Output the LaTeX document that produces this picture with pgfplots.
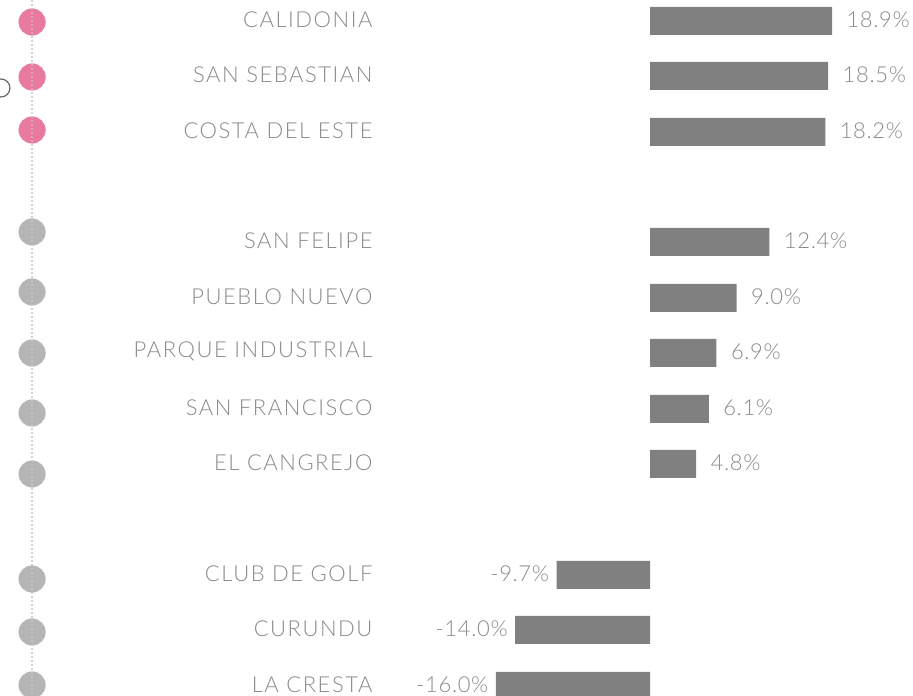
\documentclass[border=0pt]{standalone}
\usepackage{pgfplots}
\usepackage{pgfplotstable}
\pgfplotsset{compat=1.18}
\usepackage{fontspec}
\setmainfont{Lato Light}[LetterSpace=7]
\newfontfamily\numfont{Lato Light}[LetterSpace=3]
\definecolor{txt}{HTML}{8A8A8A}
\definecolor{barc}{HTML}{808080}
\definecolor{pinkc}{HTML}{E8799F}
\definecolor{grayc}{HTML}{B5B5B5}
\definecolor{dotc}{HTML}{D2D2D2}

% y = minus pixel row of each bar centre
\pgfplotstableread{
y    v     lab
-21  18.9  CALIDONIA
-76  18.5  {SAN SEBASTIAN}
-132 18.2  {COSTA DEL ESTE}
-242 12.4  {SAN FELIPE}
-298 9.0   {PUEBLO NUEVO}
-353 6.9   {PARQUE INDUSTRIAL}
-409 6.1   {SAN FRANCISCO}
-464 4.8   {EL CANGREJO}
-575 -9.7  {CLUB DE GOLF}
-630 -14.0 CURUNDU
-686 -16.0 {LA CRESTA}
}\bars
\pgfplotstableread{
x      y
-64.17 -22
-64.17 -77
-64.17 -130
}\pinkdots
\pgfplotstableread{
x      y
-64.17 -232
-64.17 -292
-64.17 -353
-64.17 -413
-64.17 -474
-64.17 -579
-64.17 -632
-64.17 -685
}\graydots

\begin{document}
\begin{tikzpicture}
\begin{axis}[
  width=913pt, height=696pt, scale only axis,
  xmin=-67.50, xmax=27.31, ymin=-696, ymax=0,
  hide axis,
  clip=true, clip marker paths=true,
  every node near coord/.append style={font=\fontsize{22}{24}\selectfont, text=txt, inner ysep=0pt, yshift=1.5pt},
]
% dotted guide line
\addplot[dotc, line width=1.6pt, dash pattern=on 1.6pt off 2.4pt] coordinates {(-64.17,0) (-64.17,-696)};
% circles
\addplot[only marks, mark=*, mark size=13.3pt, color=pinkc] table[x=x,y=y] {\pinkdots};
\addplot[only marks, mark=*, mark size=13.3pt, color=grayc] table[x=x,y=y] {\graydots};
\addplot[dotc, opacity=0.5, line width=1.6pt, dash pattern=on 1.6pt off 2.4pt] coordinates {(-64.17,0) (-64.17,-696)};
% partial outline circles at left edge
\addplot[only marks, mark=o, mark size=9pt, color=black!60, mark options={line width=1.2pt}] coordinates {(-67.40,-88) (-68.12,-640)};
% bars
\addplot[xbar, bar width=28pt, bar shift=0pt, fill=barc, draw=none] table[x=v,y=y] {\bars};
% positive value labels
\addplot[draw=none, mark=none, nodes near coords={\numfont\pgfmathprintnumber[fixed,fixed zerofill,precision=1,assume math mode=true]{\pgfplotspointmeta}\%},
  point meta=x, nodes near coords style={anchor=west, xshift=11pt},
  x filter/.expression={x<0 ? nan : x}] table[x=v,y=y] {\bars};
% negative value labels
\addplot[draw=none, mark=none, nodes near coords={\numfont\pgfmathprintnumber[fixed,fixed zerofill,precision=1,assume math mode=true]{\pgfplotspointmeta}\%},
  point meta=x, nodes near coords style={anchor=east, xshift=-4pt},
  x filter/.expression={x>0 ? nan : x}] table[x=v,y=y] {\bars};
% category labels
\addplot[draw=none, mark=none, nodes near coords, point meta=explicit symbolic,
  nodes near coords style={anchor=east}] table[x expr=-28.45, y=y, meta=lab] {\bars};
\end{axis}
\pgfresetboundingbox
\useasboundingbox (current axis.south west) rectangle (current axis.north east);
\end{tikzpicture}
\end{document}
